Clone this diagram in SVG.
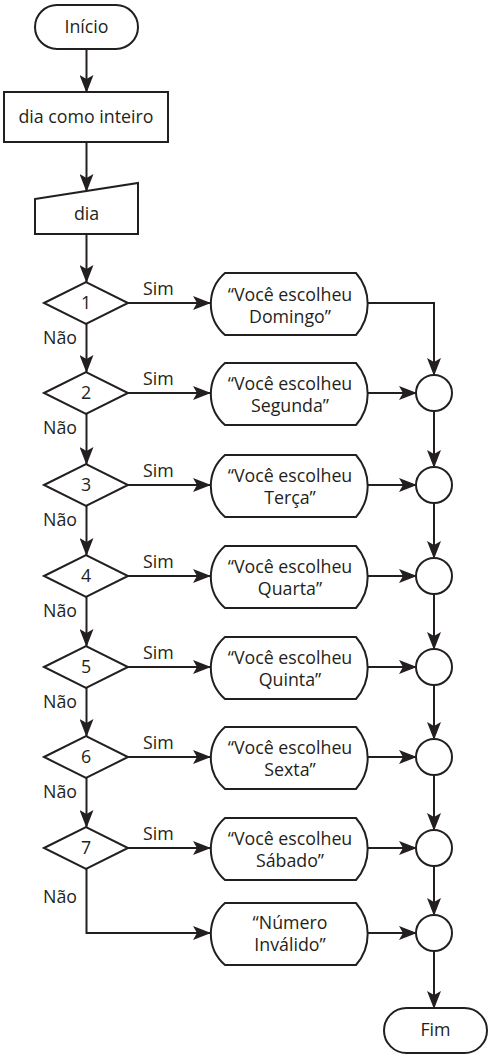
<svg xmlns="http://www.w3.org/2000/svg" xmlns:xlink="http://www.w3.org/1999/xlink" width="496" height="1063" viewBox="0 0 496 1063">
<style>
.s{fill:#fff;stroke:#231f20;stroke-width:2}
.c{fill:none;stroke:#231f20;stroke-width:2}
text{font-family:"Open Sans","Liberation Sans",sans-serif;font-size:17.8px;fill:#231f20}
.m{text-anchor:middle}
</style>
<defs>
<marker id="ah" viewBox="0 0 18 14" markerWidth="18" markerHeight="14" refX="17" refY="7" orient="auto" markerUnits="userSpaceOnUse">
<path d="M0,0 L18,7 L0,14 L4,7 Z" fill="#231f20"/>
</marker>
<path id="disp" d="M-64,-31 L67,-31 A47,47 0 0 1 67,31 L-64,31 A41,41 0 0 1 -64,-31 Z"/>
<path id="dia" d="M-42,0 L0,-21 L42,0 L0,21 Z"/>
</defs>
<g id="connectors" class="c" marker-end="url(#ah)">
<line x1="86.5" y1="49" x2="86.5" y2="92"/>
<line x1="86.5" y1="142" x2="86.5" y2="191"/>
<line x1="86.5" y1="234" x2="86.5" y2="282"/>
<line x1="86.5" y1="324" x2="86.5" y2="372"/>
<line x1="86.5" y1="414" x2="86.5" y2="464"/>
<line x1="86.5" y1="506" x2="86.5" y2="555"/>
<line x1="86.5" y1="597" x2="86.5" y2="646"/>
<line x1="86.5" y1="688" x2="86.5" y2="736"/>
<line x1="86.5" y1="778" x2="86.5" y2="827"/>
<path d="M86.5,869 V933 H210"/>
<line x1="128" y1="303" x2="210" y2="303"/>
<line x1="128" y1="393" x2="210" y2="393"/>
<line x1="128" y1="485" x2="210" y2="485"/>
<line x1="128" y1="576" x2="210" y2="576"/>
<line x1="128" y1="667" x2="210" y2="667"/>
<line x1="128" y1="757" x2="210" y2="757"/>
<line x1="128" y1="848" x2="210" y2="848"/>
<path d="M368,303 H434 V375"/>
<line x1="368" y1="393" x2="416" y2="393"/>
<line x1="368" y1="485" x2="416" y2="485"/>
<line x1="368" y1="576" x2="416" y2="576"/>
<line x1="368" y1="667" x2="416" y2="667"/>
<line x1="368" y1="757" x2="416" y2="757"/>
<line x1="368" y1="848" x2="416" y2="848"/>
<line x1="368" y1="933" x2="416" y2="933"/>
<line x1="434" y1="411" x2="434" y2="467"/>
<line x1="434" y1="503" x2="434" y2="558"/>
<line x1="434" y1="594" x2="434" y2="649"/>
<line x1="434" y1="685" x2="434" y2="739"/>
<line x1="434" y1="775" x2="434" y2="830"/>
<line x1="434" y1="866" x2="434" y2="915"/>
<line x1="434" y1="951" x2="434" y2="1008"/>
</g>
<g id="labels">
<text x="143" y="295">Sim</text>
<text x="143" y="385">Sim</text>
<text x="143" y="477">Sim</text>
<text x="143" y="568">Sim</text>
<text x="143" y="659">Sim</text>
<text x="143" y="749">Sim</text>
<text x="143" y="840">Sim</text>
<text x="43" y="344">Não</text>
<text x="43" y="434">Não</text>
<text x="43" y="526">Não</text>
<text x="43" y="617">Não</text>
<text x="43" y="708">Não</text>
<text x="43" y="798">Não</text>
<text x="43" y="903">Não</text>
</g>
<g id="inicio"><rect class="s" x="35" y="5" width="103" height="44" rx="22"/><text class="m" x="86.5" y="33">Início</text></g>
<g id="declara"><rect class="s" x="4" y="92" width="164" height="50"/><text class="m" x="86" y="123">dia como inteiro</text></g>
<g id="entrada"><polygon class="s" points="35,199 138,183 138,234 35,234"/><text class="m" x="86.5" y="220">dia</text></g>
<g id="d1"><use href="#dia" class="s" x="86" y="303"/><text class="m" x="86" y="309">1</text></g>
<g id="d2"><use href="#dia" class="s" x="86" y="393"/><text class="m" x="86" y="399">2</text></g>
<g id="d3"><use href="#dia" class="s" x="86" y="485"/><text class="m" x="86" y="491">3</text></g>
<g id="d4"><use href="#dia" class="s" x="86" y="576"/><text class="m" x="86" y="582">4</text></g>
<g id="d5"><use href="#dia" class="s" x="86" y="667"/><text class="m" x="86" y="673">5</text></g>
<g id="d6"><use href="#dia" class="s" x="86" y="757"/><text class="m" x="86" y="763">6</text></g>
<g id="d7"><use href="#dia" class="s" x="86" y="848"/><text class="m" x="86" y="854">7</text></g>
<g id="o1"><use href="#disp" class="s" x="289" y="304"/><text class="m" x="290" y="301">“Você escolheu</text><text class="m" x="290" y="323">Domingo”</text></g>
<g id="o2"><use href="#disp" class="s" x="289" y="394"/><text class="m" x="290" y="390">“Você escolheu</text><text class="m" x="290" y="412">Segunda”</text></g>
<g id="o3"><use href="#disp" class="s" x="289" y="486"/><text class="m" x="290" y="482">“Você escolheu</text><text class="m" x="290" y="504">Terça”</text></g>
<g id="o4"><use href="#disp" class="s" x="289" y="577"/><text class="m" x="290" y="573">“Você escolheu</text><text class="m" x="290" y="595">Quarta”</text></g>
<g id="o5"><use href="#disp" class="s" x="289" y="668"/><text class="m" x="290" y="664">“Você escolheu</text><text class="m" x="290" y="686">Quinta”</text></g>
<g id="o6"><use href="#disp" class="s" x="289" y="758"/><text class="m" x="290" y="754">“Você escolheu</text><text class="m" x="290" y="776">Sexta”</text></g>
<g id="o7"><use href="#disp" class="s" x="289" y="849"/><text class="m" x="290" y="845">“Você escolheu</text><text class="m" x="290" y="867">Sábado”</text></g>
<g id="o8"><use href="#disp" class="s" x="289" y="934"/><text class="m" x="290" y="929">“Número</text><text class="m" x="290" y="951">Inválido”</text></g>
<g id="c2"><circle class="s" cx="434" cy="393" r="18"/></g>
<g id="c3"><circle class="s" cx="434" cy="485" r="18"/></g>
<g id="c4"><circle class="s" cx="434" cy="576" r="18"/></g>
<g id="c5"><circle class="s" cx="434" cy="667" r="18"/></g>
<g id="c6"><circle class="s" cx="434" cy="757" r="18"/></g>
<g id="c7"><circle class="s" cx="434" cy="848" r="18"/></g>
<g id="c8"><circle class="s" cx="434" cy="933" r="18"/></g>
<g id="fim"><rect class="s" x="384" y="1008" width="103" height="45" rx="22.5"/><text class="m" x="435.5" y="1036">Fim</text></g>
</svg>
